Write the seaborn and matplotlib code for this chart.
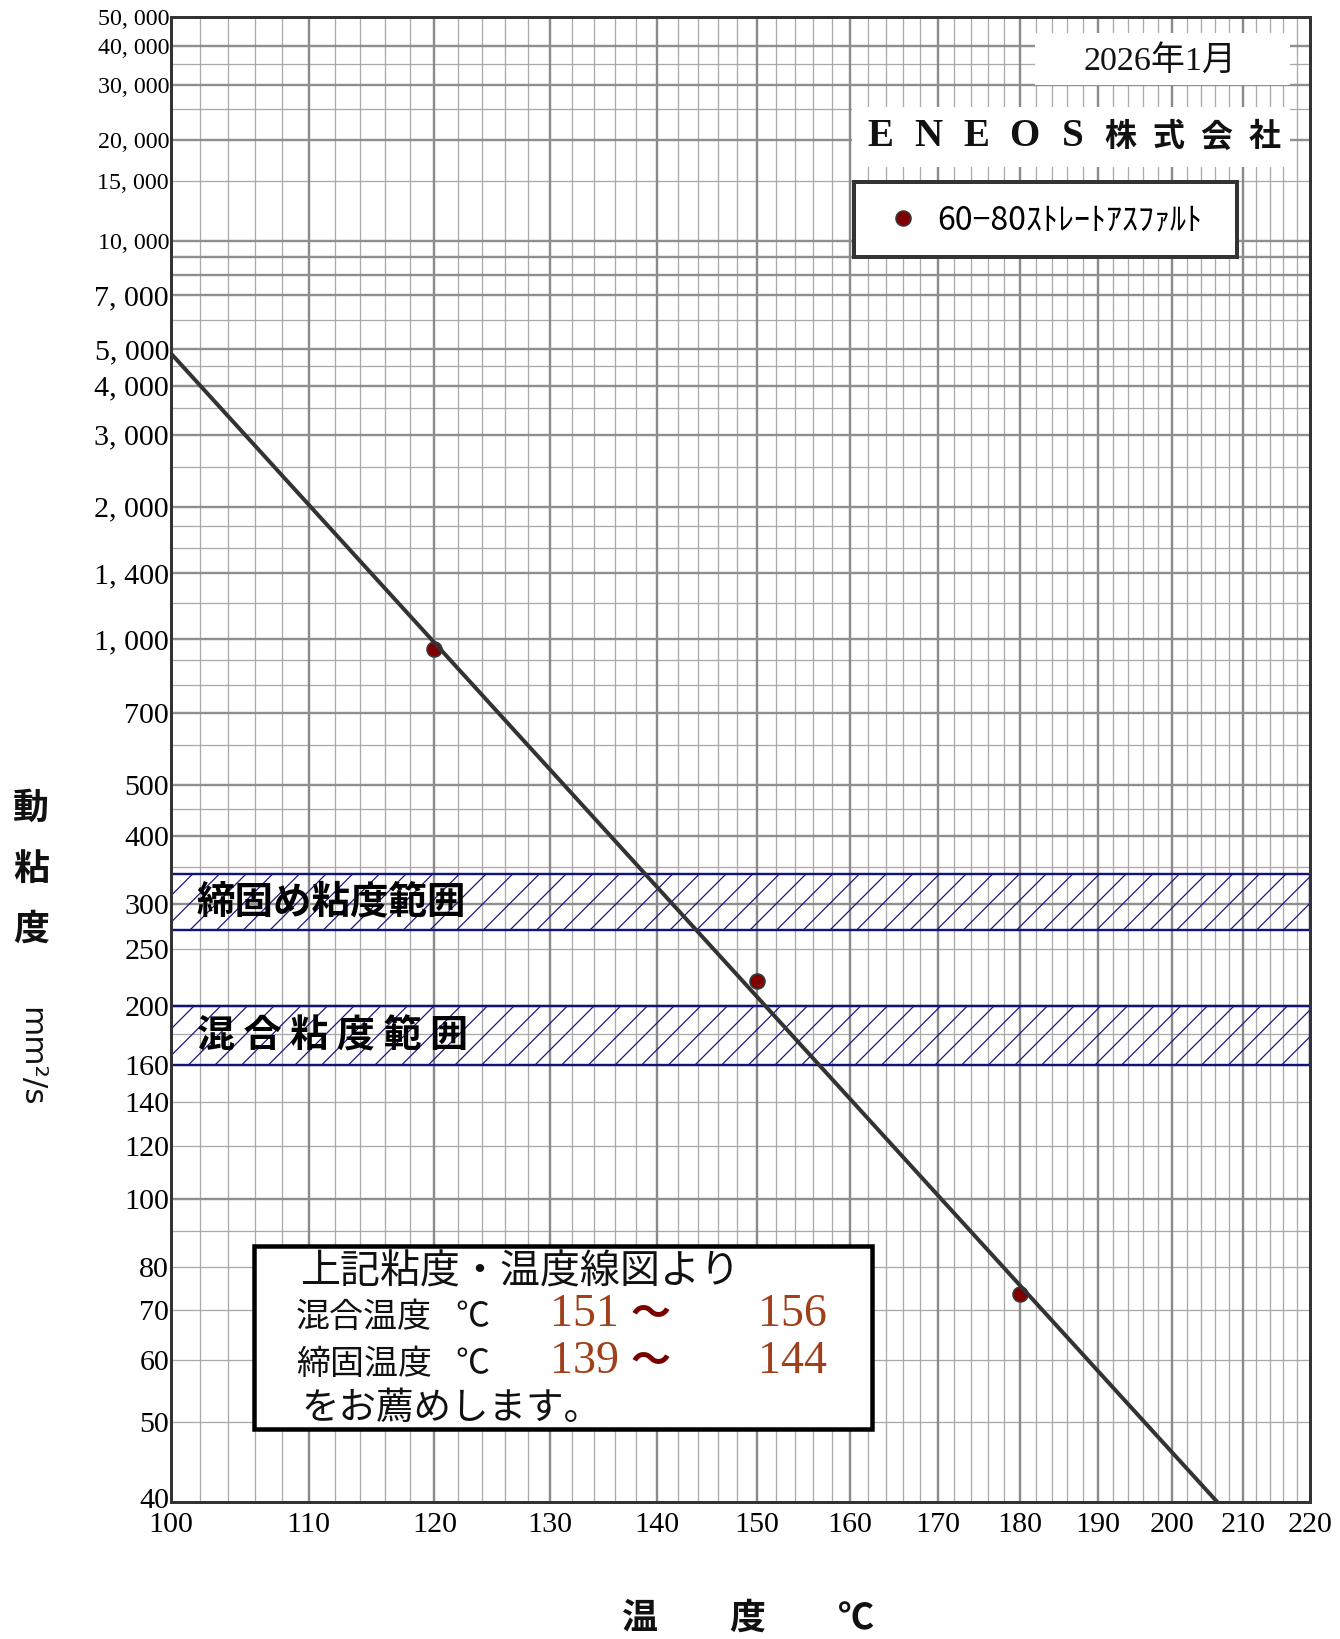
import numpy as np
import pandas as pd
import matplotlib
matplotlib.use("Agg")
import matplotlib.pyplot as plt
import seaborn as sns
from matplotlib.patches import Rectangle
from matplotlib.ticker import NullLocator, FixedLocator, FixedFormatter
from matplotlib.transforms import blended_transform_factory, ScaledTranslation

# ---------------- data ----------------
sample_label = "60−80ｽﾄﾚｰﾄｱｽﾌｧﾙﾄ"
test_temps = [120, 150, 180]          # °C
test_visc = [950, 220, 73.5]          # mm²/s

compaction_band = (270, 340)          # mm²/s
mixing_band = (160, 200)              # mm²/s
mixing_temp = (151, 156)              # °C
compaction_temp = (139, 144)          # °C

x_ticks = [100, 110, 120, 130, 140, 150, 160, 170, 180, 190, 200, 210, 220]
y_ticks = [50000, 40000, 30000, 20000, 15000, 10000, 7000, 5000, 4000, 3000,
           2000, 1400, 1000, 700, 500, 400, 300, 250, 200, 160, 140, 120,
           100, 80, 70, 60, 50, 40]
y_grid_heavy = [40000, 30000, 20000, 10000, 9000, 8000, 7000, 5000, 4000,
                3000, 2000, 1400, 1000, 700, 500, 400, 300, 200, 100]
y_grid_light = [35000, 25000, 15000, 6000, 4500, 3500, 2500, 1800, 1600,
                1200, 900, 800, 600, 450, 350, 250, 180, 160, 140, 120, 90,
                80, 70, 60, 50]
x_grid_heavy = [110, 120, 130, 140, 150, 160, 170, 180, 190, 200, 210]
x_grid_light = [t for t in range(102, 220, 2) if t % 10]

# ---------------- figure geometry (pixels) ----------------
DPI = 80
W, H = 1340, 1639
AX_L, AX_R, AX_T, AX_B = 171, 1310, 17.5, 1502


def pt(px):
    return px * 72.0 / DPI


def fx(px):
    return px / W


def fy(py):
    return 1 - py / H


def axx(px):
    return (px - AX_L) / (AX_R - AX_L)


def axy(py):
    return (AX_B - py) / (AX_B - AX_T)


# ASTM-style scales: log temperature, log-log viscosity
def x_fwd(t):
    t = np.asarray(t, dtype=float)
    return np.log10(np.clip(t, 1e-6, None))


def x_inv(u):
    return 10 ** np.asarray(u, dtype=float)


def y_fwd(v):
    v = np.asarray(v, dtype=float)
    with np.errstate(all="ignore"):
        return np.log10(np.log10(np.clip(v, 0.31, None) + 0.7))


def y_inv(u):
    u = np.asarray(u, dtype=float)
    with np.errstate(all="ignore"):
        return 10 ** (10 ** u) - 0.7


SERIF = ["Liberation Serif", "Noto Sans CJK JP"]
GOTHIC = ["Noto Sans CJK JP", "DejaVu Sans"]
plt.rcParams["hatch.color"] = "#1c1c8c"
plt.rcParams["hatch.linewidth"] = pt(1.2)

fig = plt.figure(figsize=(W / DPI, H / DPI), dpi=DPI, facecolor="white")
ax = fig.add_axes([fx(AX_L), fy(AX_B), (AX_R - AX_L) / W, (AX_B - AX_T) / H])
ax.set_facecolor("white")
ax.set_xscale("function", functions=(x_fwd, x_inv))
ax.set_yscale("function", functions=(y_fwd, y_inv))

# ---------------- grid ----------------
for t in x_grid_light:
    ax.axvline(t, color="#a9a9a9", lw=pt(1.3), zorder=1)
for t in x_grid_heavy:
    ax.axvline(t, color="#8a8a8a", lw=pt(2.4), zorder=1.1)
for v in y_grid_light:
    ax.axhline(v, color="#a9a9a9", lw=pt(1.3), zorder=1)
for v in y_grid_heavy:
    ax.axhline(v, color="#8f8f8f", lw=pt(2.4), zorder=1.1)

# ---------------- recommended viscosity bands ----------------
navy = "#12127e"
for lo, hi in (compaction_band, mixing_band):
    ax.axhspan(lo, hi, facecolor="none", edgecolor=navy, hatch="/",
               linewidth=pt(2.4), zorder=2)

blend = blended_transform_factory(ax.transAxes, ax.transData)


def band_mid(band):
    return float(y_inv((y_fwd(band[0]) + y_fwd(band[1])) / 2))


ax.text(axx(197), band_mid(compaction_band), "締固め粘度範囲", transform=blend,
        ha="left", va="center", fontsize=pt(38.5), fontweight="bold",
        family=GOTHIC, color="black", zorder=4)
ax.text(axx(197), band_mid(mixing_band), "混 合 粘 度 範 囲", transform=blend,
        ha="left", va="center", fontsize=pt(38), fontweight="bold",
        family=GOTHIC, color="black", zorder=4)

# ---------------- measured points and fitted line ----------------
coef = np.polyfit(x_fwd(test_temps), y_fwd(test_visc), 1)
fit_t = np.array([100.0, 220.0])
fit_v = y_inv(np.polyval(coef, x_fwd(fit_t)))

pts = pd.DataFrame({"temp": test_temps, "visc": test_visc})
line = pd.DataFrame({"temp": fit_t, "visc": fit_v})

sns.scatterplot(data=pts, x="temp", y="visc", ax=ax, s=pt(15) ** 2,
                color="#800000", edgecolor="#3a3a3a", linewidth=pt(1.6),
                zorder=4, legend=False)
sns.lineplot(data=line, x="temp", y="visc", ax=ax, color="#333333",
             linewidth=pt(4), zorder=5, estimator=None, sort=False,
             legend=False)
point_handle = ax.collections[0]

ax.set_xlim(100, 220)
ax.set_ylim(40, 50000)
ax.set_xlabel("")
ax.set_ylabel("")

# ---------------- ticks ----------------
ax.xaxis.set_major_locator(FixedLocator(x_ticks))
ax.xaxis.set_major_formatter(FixedFormatter([str(t) for t in x_ticks]))
ax.yaxis.set_major_locator(FixedLocator(y_ticks))
ax.yaxis.set_major_formatter(
    FixedFormatter([f"{v:,}".replace(",", ", ") for v in y_ticks]))
ax.xaxis.set_minor_locator(NullLocator())
ax.yaxis.set_minor_locator(NullLocator())
ax.tick_params(axis="both", length=0)
ax.tick_params(axis="y", pad=pt(2))
ax.tick_params(axis="x", pad=pt(10))
for lbl in ax.get_xticklabels():
    lbl.set_family(SERIF)
    lbl.set_fontsize(pt(30))
for lbl, v in zip(ax.get_yticklabels(), y_ticks):
    lbl.set_family(SERIF)
    lbl.set_fontsize(pt(24) if v >= 10000 else pt(30))
    if v == y_ticks[-1]:
        # lift the bottom-corner label a little off the x labels
        lbl.set_transform(lbl.get_transform() +
                          ScaledTranslation(0, 4 / DPI, fig.dpi_scale_trans))

for sp in ax.spines.values():
    sp.set_color("#333333")
    sp.set_linewidth(pt(3))
    sp.set_zorder(6)

# ---------------- header boxes ----------------
ax.add_patch(Rectangle((axx(1035), axy(85)), axx(1290) - axx(1035),
                       axy(33) - axy(85), transform=ax.transAxes,
                       facecolor="white", edgecolor="none", zorder=3,
                       clip_on=False))
ax.text(axx(1160), axy(61), "2026年1月", transform=ax.transAxes, ha="center",
        va="center", fontsize=pt(34), family=SERIF, color="#111111", zorder=4)

ax.add_patch(Rectangle((axx(852), axy(167)), axx(1290) - axx(852),
                       axy(107) - axy(167), transform=ax.transAxes,
                       facecolor="white", edgecolor="none", zorder=3,
                       clip_on=False))
company = "ENEOS株式会社"
for i, ch in enumerate(company):
    latin = ch.isascii()
    ax.text(axx(880 + i * 48.1), axy(137), ch, transform=ax.transAxes,
            ha="center", va="center",
            fontsize=pt(39) if latin else pt(32), fontweight="bold",
            family=SERIF if latin else GOTHIC, color="#111111", zorder=4)

# ---------------- legend ----------------
ax.add_patch(Rectangle((axx(854), axy(257)), axx(1237) - axx(854),
                       axy(182) - axy(257), transform=ax.transAxes,
                       facecolor="white", edgecolor="#333333",
                       linewidth=pt(4), zorder=6, clip_on=False))
leg = ax.legend([point_handle], [sample_label], loc="center left",
                bbox_to_anchor=(fx(887), fy(220)),
                bbox_transform=fig.transFigure, frameon=False,
                prop={"family": GOTHIC, "size": pt(32)}, handlelength=1.0,
                handletextpad=0.56, borderpad=0, borderaxespad=0,
                scatterpoints=1, scatteryoffsets=[0.5])
leg.set_zorder(7)

# ---------------- recommendation box ----------------
ax.add_patch(Rectangle((axx(254), axy(1429)), axx(872) - axx(254),
                       axy(1246) - axy(1429), transform=ax.transAxes,
                       facecolor="white", edgecolor="black",
                       linewidth=pt(4.5), zorder=6, clip_on=False))
num_color = "#a0401a"
wave_color = "#7a0000"
ax.text(axx(301), axy(1272), "上記粘度・温度線図より", transform=ax.transAxes,
        ha="left", va="center", fontsize=pt(40), family=GOTHIC,
        color="#111111", zorder=7)
rows = [("混合温度", mixing_temp, 1317), ("締固温度", compaction_temp, 1364)]
for name, (t_lo, t_hi), yy in rows:
    ax.text(axx(296), axy(yy), name, transform=ax.transAxes, ha="left",
            va="center", fontsize=pt(34), family=GOTHIC, color="#111111",
            zorder=7)
    ax.text(axx(455), axy(yy), "℃", transform=ax.transAxes, ha="left",
            va="center", fontsize=pt(34), family=GOTHIC, color="#111111",
            zorder=7)
    ax.text(axx(550), axy(yy - 2), str(t_lo), transform=ax.transAxes,
            ha="left", va="center", fontsize=pt(46), family=SERIF,
            color=num_color, zorder=7)
    ax.text(axx(651), axy(yy - 3), "〜", transform=ax.transAxes, ha="center",
            va="center", fontsize=pt(40), fontweight="bold", family=GOTHIC,
            color=wave_color, zorder=7)
    ax.text(axx(758), axy(yy - 2), str(t_hi), transform=ax.transAxes,
            ha="left", va="center", fontsize=pt(46), family=SERIF,
            color=num_color, zorder=7)
ax.text(axx(301), axy(1408), "をお薦めします。", transform=ax.transAxes,
        ha="left", va="center", fontsize=pt(37.5), family=GOTHIC,
        color="#111111", zorder=7)

# ---------------- axis titles ----------------
for ch, yy in zip("動粘度", (808, 869, 929)):
    fig.text(fx(31), fy(yy), ch, ha="center", va="center", fontsize=pt(36),
             fontweight="bold", family=GOTHIC, color="#111111")
fig.text(fx(31), fy(1057), "mm²/s", ha="center", va="center",
         rotation=270, fontsize=pt(31), family=["DejaVu Sans"],
         color="#111111")
fig.text(fx(748), fy(1618), "温　　度　　℃", ha="center", va="center",
         fontsize=pt(36), fontweight="bold", family=GOTHIC, color="#111111")

fig.savefig("out.png", dpi=DPI, facecolor="white")
